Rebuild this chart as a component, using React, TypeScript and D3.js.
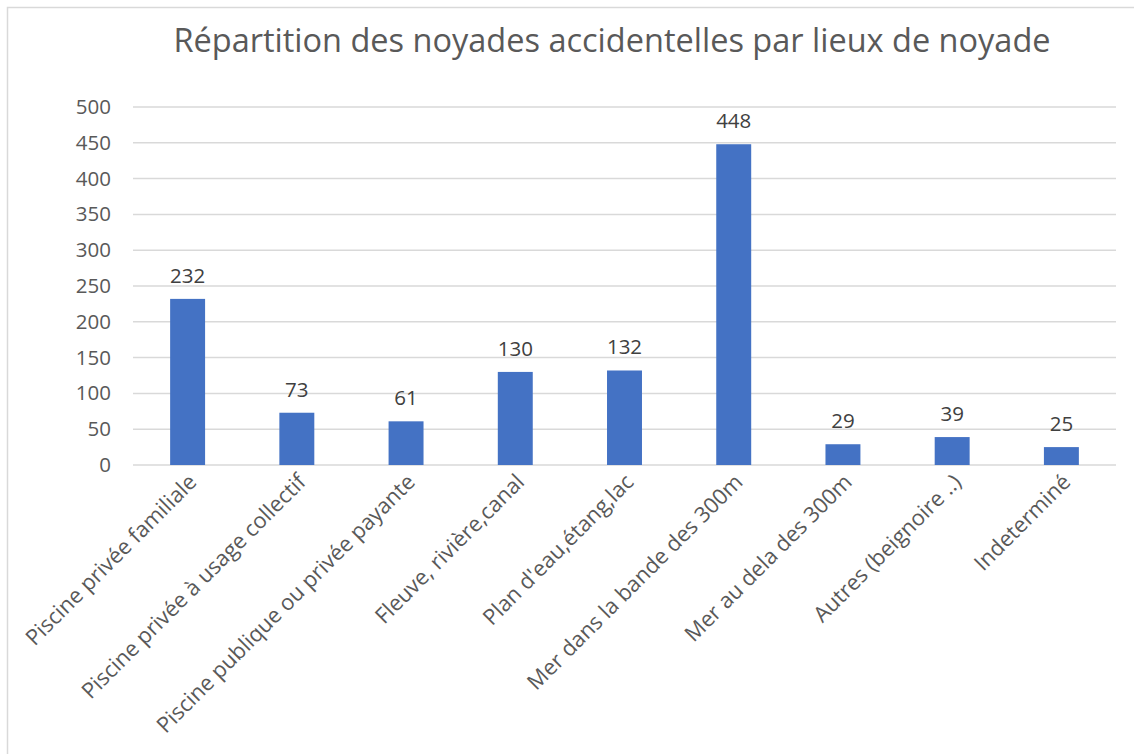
import * as d3 from "d3";
import { useEffect, useRef } from "react";

const categories = [
  "Piscine privée familiale",
  "Piscine privée à usage collectif",
  "Piscine publique ou privée payante",
  "Fleuve, rivière,canal",
  "Plan d'eau,étang,lac",
  "Mer dans la bande des 300m",
  "Mer au dela des 300m",
  "Autres (beignoire ..)",
  "Indeterminé",
];
const values = [232, 73, 61, 130, 132, 448, 29, 39, 25];
const yTicks = [0, 50, 100, 150, 200, 250, 300, 350, 400, 450, 500];
const title = "Répartition des noyades accidentelles par lieux de noyade";

export default function App() {
  const ref = useRef<SVGSVGElement | null>(null);

  useEffect(() => {
    if (!ref.current) return;
    const width = 1134;
    const height = 754;
    const margin = { top: 107, right: 18, bottom: 289, left: 133 };
    const innerW = width - margin.left - margin.right;
    const innerH = height - margin.top - margin.bottom;
    const font = "'Open Sans', 'Noto Sans', sans-serif";
    const muted = "#595959";

    const svg = d3.select(ref.current);
    svg.selectAll("*").remove();

    svg.append("rect")
      .attr("x", 0).attr("y", 0).attr("width", width).attr("height", height)
      .attr("fill", "#fff");
    svg.append("rect")
      .attr("x", 7.5).attr("y", 7.5).attr("width", width + 20).attr("height", height + 20)
      .attr("fill", "none").attr("stroke", "#d9d9d9").attr("stroke-width", 1.5);

    svg.append("text")
      .attr("x", 612).attr("y", 52)
      .attr("text-anchor", "middle")
      .style("font-family", font).style("font-size", "32.5px").style("fill", muted)
      .text(title);

    const x = d3.scaleBand<string>().domain(categories).range([0, innerW]).paddingInner(0.68).paddingOuter(0.34);
    const y = d3.scaleLinear().domain([0, 500]).range([innerH, 0]);

    const g = svg.append("g").attr("transform", `translate(${margin.left},${margin.top})`);

    g.append("g")
      .selectAll("line")
      .data(yTicks)
      .join("line")
      .attr("x1", 0).attr("x2", innerW)
      .attr("y1", (d) => y(d)).attr("y2", (d) => y(d))
      .attr("stroke", "#d9d9d9").attr("stroke-width", 1.5);

    const yAxis = g.append("g")
      .call(d3.axisLeft(y).tickValues(yTicks).tickSize(0).tickPadding(22));
    yAxis.select(".domain").remove();
    yAxis.selectAll("text")
      .style("font-family", font).style("font-size", "20.5px").style("fill", muted);

    g.selectAll("rect.bar")
      .data(values)
      .join("rect")
      .attr("class", "bar")
      .attr("x", (_, i) => x(categories[i]) ?? 0)
      .attr("width", x.bandwidth())
      .attr("y", (d) => y(d))
      .attr("height", (d) => innerH - y(d))
      .attr("fill", "#4472C4");

    g.selectAll("text.val")
      .data(values)
      .join("text")
      .attr("class", "val")
      .attr("x", (_, i) => (x(categories[i]) ?? 0) + x.bandwidth() / 2)
      .attr("y", (d) => y(d) - 16)
      .attr("text-anchor", "middle")
      .style("font-family", font).style("font-size", "20.5px").style("fill", "#404040")
      .text((d) => d);

    g.selectAll("text.cat")
      .data(categories)
      .join("text")
      .attr("class", "cat")
      .attr("text-anchor", "end")
      .attr("transform", (d) => {
        const cx = (x(d) ?? 0) + x.bandwidth() / 2;
        return `translate(${cx + 5},${innerH + 13}) rotate(-45)`;
      })
      .attr("dy", "0.35em")
      .style("font-family", font).style("font-size", "21.8px").style("fill", muted)
      .text((d) => d);
  }, []);

  return (
    <svg
      ref={ref}
      width={1134}
      height={754}
      style={{ position: "absolute", left: 0, top: 0, display: "block" }}
    />
  );
}
